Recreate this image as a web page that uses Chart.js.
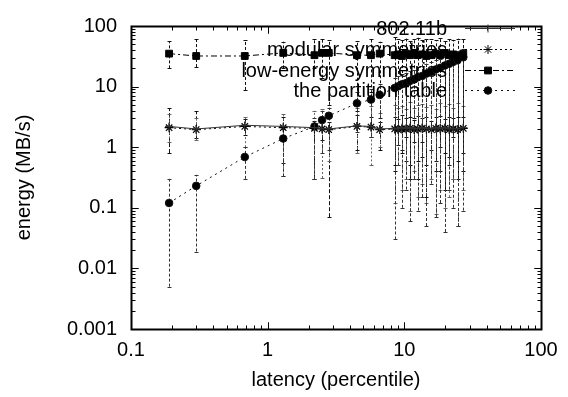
<!DOCTYPE html>
<html><head><meta charset="utf-8">
<script src="https://cdn.jsdelivr.net/npm/chart.js@4"></script>
<style>html,body{margin:0;padding:0;background:#fff;}</style>
</head><body>
<canvas id="c" width="568" height="397"></canvas>
<script>
// ---- data ----
const xValues = [0.19, 0.3, 0.68, 1.3, 2.2, 2.5, 2.8, 4.5, 5.7, 6.6, 8.5, 9.0, 9.6, 10.3, 11, 11.8, 12.5, 13.5, 14.5, 15.8, 17, 18.3, 19.8, 21.3, 22.8, 24.5, 27];

const seriesNames = ["802.11b", "modular symmetries", "low-energy symmetries", "the partition table"];

const wirelessY  = [2.2, 2.0, 2.3, 2.2, 2.1, 2.05, 2.0, 2.25, 2.2, 2.0, 2.05, 2.0, 2.1, 2.05, 2.1, 2.0, 2.05, 2.1, 2.05, 2.0, 2.1, 2.05, 2.1, 2.0, 2.05, 2.0, 2.1];
const wirelessLo = [0.8, 1.4, 1.6, 0.55, 0.3, 1.3, 0.07, 0.9, 1.5, 0.9, 0.4, 1.1, 0.9, 0.6, 0.5, 1.2, 0.3, 0.7, 0.5, 0.9, 0.6, 0.4, 0.8, 0.5, 0.3, 0.6, 0.4];
const wirelessHi = [4.4, 3.9, 2.9, 3.1, 2.7, 3.0, 2.6, 3.4, 3.1, 2.6, 3.2, 2.9, 3.4, 3.0, 3.2, 2.8, 3.3, 3.0, 3.2, 2.7, 3.1, 3.3, 2.9, 3.1, 3.0, 3.2, 3.1];

const modularY  = [2.1, 1.95, 2.2, 2.1, 2.05, 2.0, 1.95, 2.2, 2.15, 1.95, 2.0, 1.95, 2.0, 2.0, 2.05, 1.95, 2.0, 2.05, 2.0, 1.95, 2.05, 2.0, 2.05, 1.95, 2.0, 1.95, 2.05];
const modularLo = [1.2, 1.3, 1.0, 0.33, 0.3, 0.31, 0.6, 0.8, 0.5, 1.0, 0.12, 0.5, 0.2, 0.3, 0.09, 0.4, 0.15, 0.25, 0.12, 0.3, 0.08, 0.2, 0.1, 0.15, 0.3, 0.05, 0.2];
const modularHi = [3.5, 3.0, 3.2, 3.5, 4.0, 4.2, 3.6, 4.5, 4.8, 3.6, 5.0, 4.5, 4.8, 4.2, 5.5, 4.4, 4.9, 5.2, 4.6, 5.0, 4.3, 5.4, 4.7, 5.1, 4.5, 5.3, 4.8];

const lowEnergyY  = [35, 32, 32, 36, 33, 36, 36, 33, 33, 35, 33, 34, 32, 35, 33, 36, 33, 34, 32, 33, 35, 33, 36, 33, 34, 32, 35];
const lowEnergyLo = [20, 21, 8.8, 20, 20, 14, 5, 4, 8, 3, 0.5, 2, 0.8, 1.5, 0.3, 3, 0.6, 1.2, 0.15, 2, 0.4, 1, 0.2, 0.7, 1.5, 0.3, 0.8];
const lowEnergyHi = [56, 60, 58, 55, 62, 60, 58, 57, 62, 55, 65, 60, 58, 62, 56, 60, 64, 58, 62, 60, 58, 63, 57, 61, 59, 62, 60];

const partitionY  = [0.12, 0.23, 0.69, 1.39, 2.2, 2.8, 3.3, 5.3, 6.1, 7.3, 9.5, 10.1, 10.9, 11.4, 12.4, 13.1, 14.2, 15.0, 16.4, 17.6, 19.2, 20.4, 22.3, 23.8, 25.6, 27.2, 30.5];
const partitionLo = [0.005, 0.019, 0.3, 0.33, 0.3, 0.8, 0.9, 1.8, 1.5, 2.0, 0.03, 0.5, 0.1, 0.2, 0.06, 0.3, 0.09, 0.15, 0.05, 0.25, 0.07, 0.12, 0.04, 0.2, 0.1, 0.05, 0.09];
const partitionHi = [0.3, 0.35, 1.0, 2.0, 3.0, 4.0, 4.5, 8, 9, 11, 14, 15, 16, 17, 18, 19, 21, 22, 24, 25, 27, 29, 31, 33, 36, 38, 42];

const xTickValues = [0.1, 1, 10, 100];
const xTickLabels = ["0.1", "1", "10", "100"];
const yTickValues = [0.001, 0.01, 0.1, 1, 10, 100];
const yTickLabels = ["0.001", "0.01", "0.1", "1", "10", "100"];

const xTitle = "latency (percentile)";
const yTitle = "energy (MB/s)";

// ---- chart ----
const FONT = {family: "'Liberation Sans', Arial, sans-serif", size: 20};
const pts = ys => xValues.map((x, i) => ({x: x, y: ys[i]}));

const datasets = [
  {label: seriesNames[0], data: pts(wirelessY), errLo: wirelessLo, errHi: wirelessHi,
   borderColor: '#333', backgroundColor: '#333', borderWidth: 1, borderDash: [],
   pointStyle: 'cross', pointRadius: 4, pointBorderWidth: 1, errColor: '#111', errDash: [4, 2]},
  {label: seriesNames[1], data: pts(modularY), errLo: modularLo, errHi: modularHi,
   borderColor: '#000', backgroundColor: '#000', borderWidth: 1, borderDash: [2, 3],
   pointStyle: 'star', pointRadius: 4.5, pointBorderWidth: 1.2, errColor: '#666', errDash: [2, 2]},
  {label: seriesNames[2], data: pts(lowEnergyY), errLo: lowEnergyLo, errHi: lowEnergyHi,
   borderColor: '#000', backgroundColor: '#000', borderWidth: 1, borderDash: [6, 3, 2, 3],
   pointStyle: 'rect', pointRadius: 4.8, pointBorderWidth: 1, errColor: '#111', errDash: [3, 2]},
  {label: seriesNames[3], data: pts(partitionY), errLo: partitionLo, errHi: partitionHi,
   borderColor: '#111', backgroundColor: '#000', borderWidth: 1, borderDash: [2, 4],
   pointStyle: 'circle', pointRadius: 3.8, pointBorderWidth: 1, errColor: '#333', errDash: [3, 2]}
];

const errorBars = {
  id: 'errorBars',
  beforeDatasetsDraw(chart) {
    const {ctx, chartArea: a} = chart;
    const xs = chart.scales.x, ys = chart.scales.y;
    ctx.save();
    ctx.beginPath(); ctx.rect(a.left, a.top, a.right - a.left, a.bottom - a.top); ctx.clip();
    chart.data.datasets.forEach(ds => {
      ctx.strokeStyle = ds.errColor; ctx.lineWidth = 1; ctx.setLineDash(ds.errDash);
      ds.data.forEach((p, i) => {
        const px = Math.round(xs.getPixelForValue(p.x)) + 0.5;
        const y1 = ys.getPixelForValue(ds.errLo[i]);
        const y2 = ys.getPixelForValue(ds.errHi[i]);
        ctx.beginPath(); ctx.moveTo(px, y1); ctx.lineTo(px, y2); ctx.stroke();
        ctx.setLineDash([]);
        ctx.beginPath();
        ctx.moveTo(px - 2, Math.round(y1) + 0.5); ctx.lineTo(px + 2, Math.round(y1) + 0.5);
        ctx.moveTo(px - 2, Math.round(y2) + 0.5); ctx.lineTo(px + 2, Math.round(y2) + 0.5);
        ctx.stroke();
        ctx.setLineDash(ds.errDash);
      });
    });
    ctx.restore();
  }
};

const frame = {
  id: 'frame',
  beforeDatasetsDraw(chart) {
    const {ctx, chartArea: a} = chart;
    const xs = chart.scales.x, ys = chart.scales.y;
    ctx.save();
    ctx.strokeStyle = '#000'; ctx.lineWidth = 1;
    ctx.beginPath();
    const L = Math.round(a.left) + 0.5, R = Math.round(a.right) + 0.5, T = Math.round(a.top) + 0.5, B = Math.round(a.bottom) + 0.5;
    for (let d = 0.1; d < 100; d *= 10) {
      for (let k = 1; k <= 10; k++) {
        const v = k * d;
        const len = (k === 1 || k === 10) ? 7 : 4;
        const px = Math.round(xs.getPixelForValue(v)) + 0.5;
        ctx.moveTo(px, B); ctx.lineTo(px, B - len);
        ctx.moveTo(px, T); ctx.lineTo(px, T + len);
      }
    }
    for (let d = 0.001; d < 100; d *= 10) {
      for (let k = 1; k <= 10; k++) {
        const v = k * d;
        const len = (k === 1 || k === 10) ? 7 : 4;
        const py = Math.round(ys.getPixelForValue(v)) + 0.5;
        ctx.moveTo(L, py); ctx.lineTo(L + len, py);
        ctx.moveTo(R, py); ctx.lineTo(R - len, py);
      }
    }
    ctx.stroke();
    ctx.lineWidth = 2;
    ctx.strokeRect(L, T, R - L, B - T);
    ctx.restore();
  }
};

const keyBox = {
  id: 'keyBox',
  afterDatasetsDraw(chart) {
    const {ctx} = chart;
    const rows = [28, 49, 70, 90];
    ctx.save();
    ctx.font = FONT.size + 'px ' + FONT.family;
    ctx.textAlign = 'right'; ctx.textBaseline = 'middle'; ctx.fillStyle = '#000';
    chart.data.datasets.forEach((ds, i) => {
      const y = rows[i];
      ctx.fillText(ds.label, 447, y + 1);
      ctx.strokeStyle = ds.borderColor; ctx.lineWidth = 1; ctx.setLineDash(ds.borderDash);
      ctx.beginPath(); ctx.moveTo(465, y + 0.5); ctx.lineTo(515, y + 0.5); ctx.stroke();
      ctx.setLineDash([]);
      ctx.strokeStyle = ds.borderColor; ctx.fillStyle = ds.backgroundColor;
      Chart.helpers.drawPoint(ctx, {pointStyle: ds.pointStyle, radius: ds.pointRadius, borderWidth: 1, rotation: 0}, 488, y + 0.5);
      ctx.fillStyle = '#000';
    });
    ctx.restore();
  }
};

new Chart(document.getElementById('c'), {
  type: 'line',
  data: {datasets: datasets},
  plugins: [frame, errorBars, keyBox],
  options: {
    responsive: false, animation: false, devicePixelRatio: 1,
    layout: {padding: {left: 0, right: 27, top: 13, bottom: 0}},
    plugins: {legend: {display: false}, tooltip: {enabled: false}},
    elements: {line: {tension: 0}},
    scales: {
      x: {
        type: 'logarithmic', min: 0.1, max: 100,
        grid: {display: false, drawTicks: false}, border: {display: false},
        afterBuildTicks: s => { s.ticks = xTickValues.map(v => ({value: v})); },
        afterFit: s => { s.height = 68; },
        ticks: {font: FONT, color: '#000', padding: 9, maxRotation: 0, autoSkip: false,
                callback: (v, i) => xTickLabels[i]},
        title: {display: true, text: xTitle, font: FONT, color: '#000', padding: {top: 0, bottom: 5}}
      },
      y: {
        type: 'logarithmic', min: 0.001, max: 100,
        grid: {display: false, drawTicks: false}, border: {display: false},
        afterBuildTicks: s => { s.ticks = yTickValues.map(v => ({value: v})); },
        afterFit: s => { s.width = 131; },
        ticks: {font: FONT, color: '#000', padding: 14, autoSkip: false,
                callback: (v, i) => yTickLabels[i]},
        title: {display: true, text: yTitle, font: FONT, color: '#000', padding: {top: 12, bottom: 0}}
      }
    }
  }
});
</script>
</body></html>
